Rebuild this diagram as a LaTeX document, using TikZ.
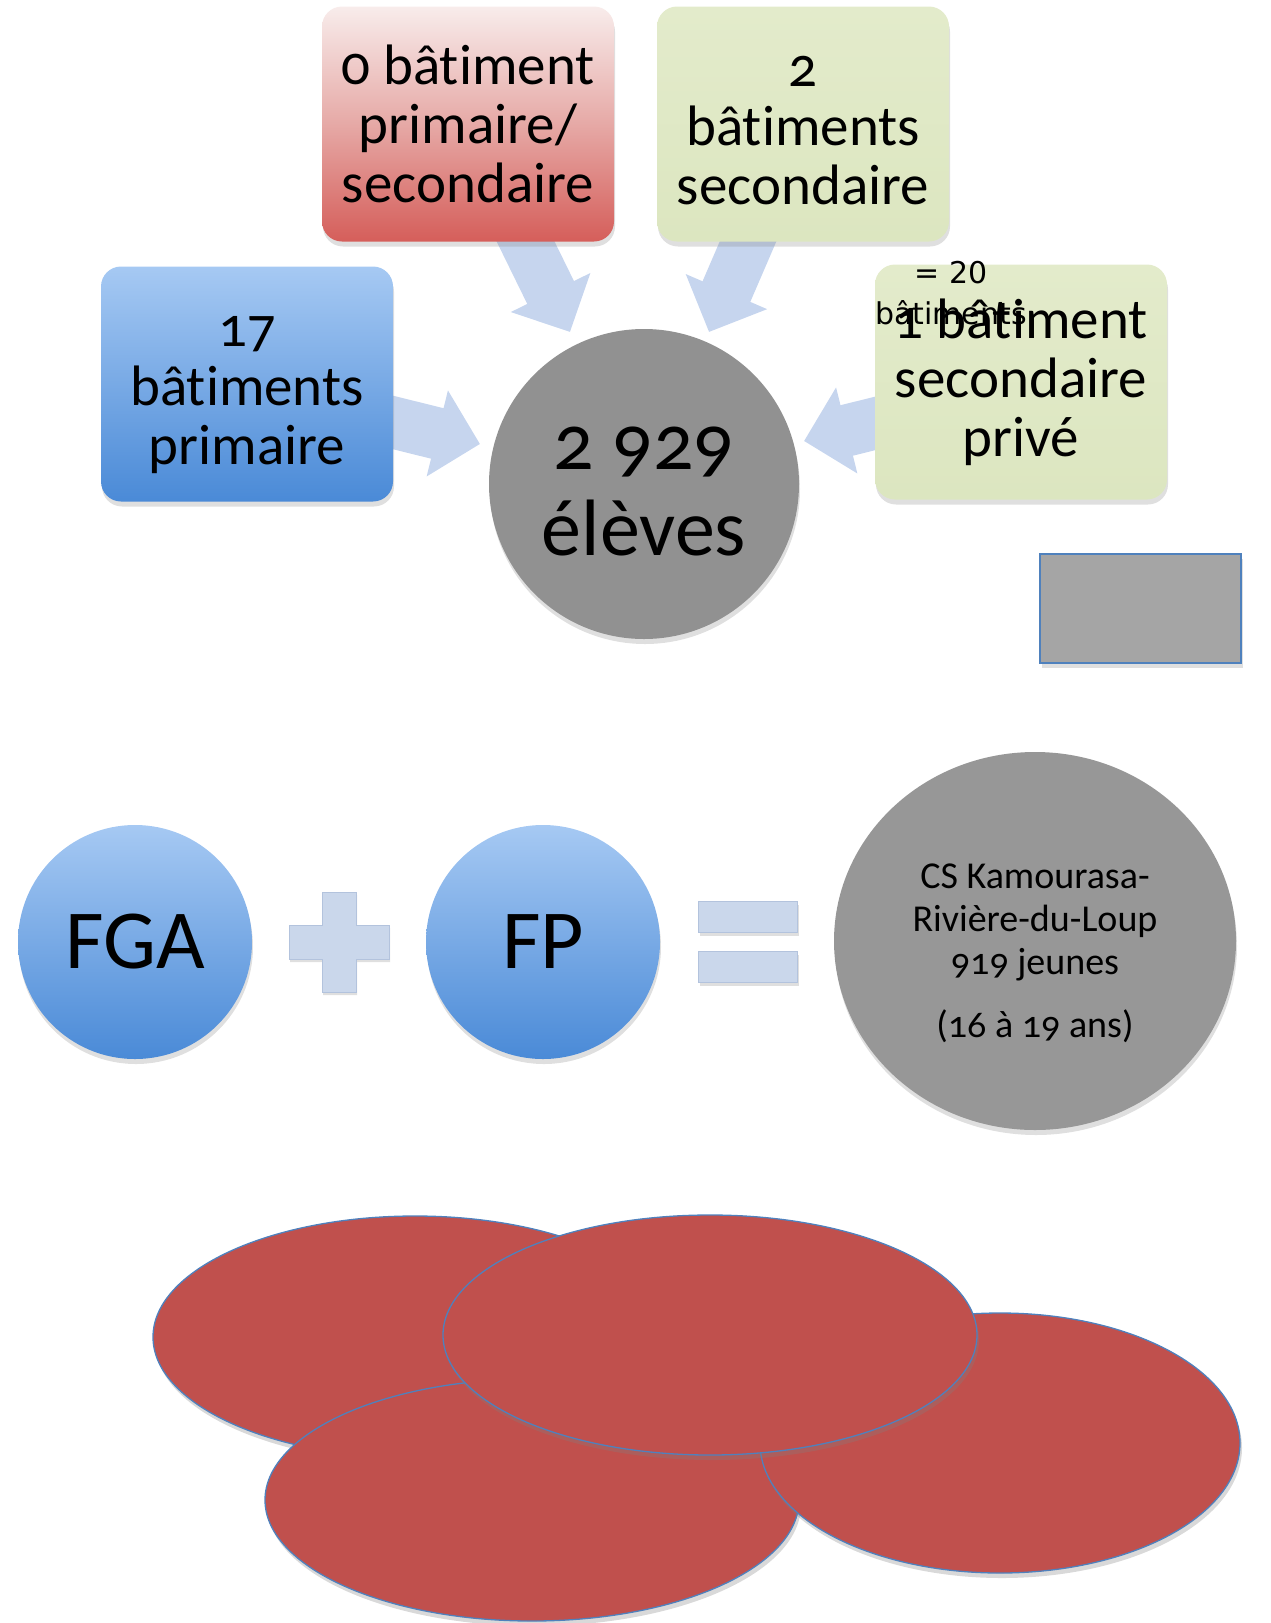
\documentclass[tikz,border=0pt]{standalone}
\usepackage{fontspec}
\setmainfont{Carlito}[Numbers=OldStyle, Ligatures=NoCommon]
\newfontfamily\notefont{DejaVu Sans}
\usetikzlibrary{arrows.meta,positioning,shapes,shadows,backgrounds}
\definecolor{blueTop}{HTML}{A6C9F3}
\definecolor{blueBot}{HTML}{4A8AD7}
\definecolor{redTop}{HTML}{F8ECEB}
\definecolor{redMid}{HTML}{E6A9A6}
\definecolor{redBot}{HTML}{D55E5A}
\definecolor{greenTop}{HTML}{E3EBCB}
\definecolor{greenBot}{HTML}{DCE6C0}
\definecolor{hubGray}{HTML}{919191}
\definecolor{csGray}{HTML}{979797}
\definecolor{arrowBlue}{HTML}{C6D5EE}
\definecolor{signBlue}{HTML}{CAD7EB}
\definecolor{signEdge}{HTML}{B3C3DD}
\definecolor{petalRed}{HTML}{C0504D}
\definecolor{edgeBlue}{HTML}{4F81BD}
\definecolor{boxGray}{HTML}{A5A5A5}

\begin{document}
\begin{tikzpicture}[
    x=1pt, y=-1pt,
    box/.style={minimum width=292pt, minimum height=235pt, align=center, rounded corners=20pt, inner sep=0pt,
      font=\fontsize{57}{59}\selectfont, drop shadow={opacity=0.25, shadow xshift=1pt, shadow yshift=-5pt}},
    primbox/.style={box, top color=blueTop, bottom color=blueBot},
    mixbox/.style={box, top color=redTop, bottom color=redBot, middle color=redMid},
    secbox/.style={box, top color=greenTop, bottom color=greenBot},
    hub/.style={circle, minimum size=310pt, inner sep=0pt, fill=hubGray, align=center,
      font=\fontsize{80}{86}\selectfont, drop shadow={opacity=0.25, shadow xshift=1pt, shadow yshift=-5pt}},
    ball/.style={circle, minimum size=234pt, inner sep=0pt, top color=blueTop, bottom color=blueBot,
      font=\fontsize{84}{90}\selectfont, drop shadow={opacity=0.25, shadow xshift=1pt, shadow yshift=-5pt}},
    result/.style={ellipse, minimum width=402pt, minimum height=378pt, inner sep=0pt, fill=csGray, align=center,
      font=\fontsize{38}{43}\selectfont, drop shadow={opacity=0.25, shadow xshift=1pt, shadow yshift=-5pt}},
    sign/.style={fill=signBlue, draw=signEdge, line width=1pt, drop shadow={opacity=0.25, shadow xshift=1pt, shadow yshift=-3pt}},
    bar/.style={sign, rectangle, minimum width=99pt, minimum height=31pt, inner sep=0pt},
    petal/.style={ellipse, inner sep=0pt, fill=petalRed, draw=edgeBlue, line width=1.3pt,
      drop shadow={opacity=0.3, shadow xshift=2pt, shadow yshift=-5pt}},
    note/.style={align=center, font=\notefont\fontsize{30}{41}\selectfont, inner sep=0pt},
    blockarrow/.style={draw=arrowBlue, line width=52pt, -{Triangle[width=86pt, length=44pt]}}
  ]
  \useasboundingbox (0,0) rectangle (1270,1623);

  % Main components
  \node[hub] (eleves) at (644,484) {\rule{0pt}{58pt}2 929\\élèves};
  \node[mixbox] (mixte) at (468,124) {0 bâtiment\\primaire/\\secondaire};
  \node[secbox] (sec) at (803,124) {\rule{0pt}{44pt}2\\bâtiments\\secondaire};
  \node[primbox] (prim) at (247,384) {\rule{0pt}{52pt}17\\bâtiments\\primaire};
  \node[secbox] (prive) at (1021,382) {1 bâtiment\\secondaire\\privé};
  \node[note] (total) at (951,293) {= 20\\bâtiments};
  \node[draw=edgeBlue, line width=2pt, fill=boxGray, minimum width=201pt, minimum height=109pt,
    drop shadow={opacity=0.25, shadow xshift=2pt, shadow yshift=-5pt}] (blank) at (1140,608) {};

  % Connections
  \coordinate (mixtetail) at (516,222);
  \coordinate (mixtetip) at (570,332);
  \coordinate (sectail) at (756,223);
  \coordinate (sectip) at (709,332);
  \coordinate (primtail) at (375,418);
  \coordinate (primtip) at (480,444);
  \coordinate (privetail) at (893,419);
  \coordinate (privetip) at (804,441);
  \begin{pgfonlayer}{background}
    \draw[blockarrow] (mixtetail) -- (mixtetip);
    \draw[blockarrow] (sectail) -- (sectip);
    \draw[blockarrow] (primtail) -- (primtip);
    \draw[blockarrow] (privetail) -- (privetip);
  \end{pgfonlayer}

  % FGA + FP = CS
  \node[ball] (fga) at (135,942) {FGA};
  \coordinate (plus) at (339,942);
  \begin{scope}[shift={(plus)}]
    \path[sign] (-17,-50) -- (17,-50) -- (17,-17) -- (50,-17) -- (50,17) -- (17,17) -- (17,50)
      -- (-17,50) -- (-17,17) -- (-50,17) -- (-50,-17) -- (-17,-17) -- cycle;
  \end{scope}
  \node[ball] (fp) at (543,942) {FP};
  \node[bar] (eqtop) at (748,917) {};
  \node[bar, below=18pt of eqtop] (eqbot) {};
  \node[result] (cs) at (1035,941) {\rule{0pt}{50pt}CS Kamourasa-\\Rivière-du-Loup\\919 jeunes\\[20pt](16 à 19 ans)};

  % Overlapping ellipses
  \node[petal, minimum width=524pt, minimum height=242pt] (petala) at (415,1337) {};
  \node[petal, minimum width=534pt, minimum height=242pt] (petald) at (532,1500) {};
  \node[petal, minimum width=480pt, minimum height=260pt] (petalc) at (1000,1443) {};
  \node[petal, minimum width=534pt, minimum height=240pt] (petalb) at (710,1335) {};

\end{tikzpicture}
\end{document}
